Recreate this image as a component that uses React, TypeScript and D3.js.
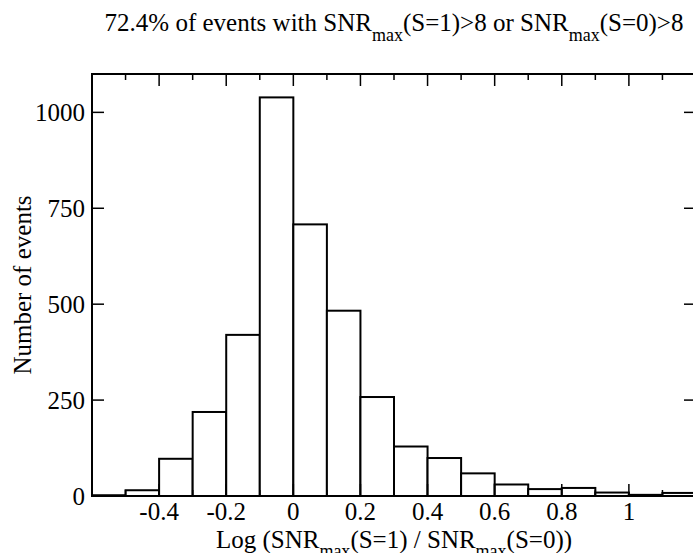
import React from "react";
import * as d3 from "d3";

// histogram of log10(SNRmax(S=1)/SNRmax(S=0)), bin width 0.1
const binStarts = [-0.6, -0.5, -0.4, -0.3, -0.2, -0.1, 0, 0.1, 0.2, 0.3, 0.4, 0.5, 0.6, 0.7, 0.8, 0.9, 1.0, 1.1];
const counts = [2, 15, 97, 219, 420, 1039, 708, 483, 258, 129, 99, 59, 30, 18, 21, 9, 3, 8];
const binWidth = 0.1;

const xMajorTicks = [-0.4, -0.2, 0, 0.2, 0.4, 0.6, 0.8, 1];
const xMinorTicks = [-0.5, -0.3, -0.1, 0.1, 0.3, 0.5, 0.7, 0.9, 1.1];
const yTicks = [0, 250, 500, 750, 1000];

const width = 693;
const height = 553;
const marginLeft = 92;
const marginRight = -3;
const marginTop = 74;
const marginBottom = 57;

const font = "'Liberation Serif', 'Times New Roman', serif";

const App = () => {
  const x = d3
    .scaleLinear()
    .domain([-0.6, 1.2])
    .range([marginLeft, width - marginRight]);

  const y = d3
    .scaleLinear()
    .domain([0, 1100])
    .range([height - marginBottom, marginTop]);

  const left = x.range()[0];
  const right = x.range()[1];
  const top = y.range()[1];
  const bottom = y.range()[0];

  const major = 12;
  const minor = 6;

  return (
    <svg
      width={width}
      height={height}
      style={{ position: "absolute", left: 0, top: 0, background: "#fff" }}
      fontFamily={font}
    >
      {/* bars */}
      <g fill="#fff" stroke="#000" strokeWidth={2}>
        {binStarts.map((b, i) => (
          <rect
            key={i}
            x={x(b)}
            y={y(counts[i])}
            width={x(b + binWidth) - x(b)}
            height={y(0) - y(counts[i])}
          />
        ))}
      </g>

      {/* ticks, all pointing inward */}
      <g stroke="#000" strokeWidth={1.5}>
        {xMajorTicks.map((t) => (
          <g key={"xM" + t}>
            <line x1={x(t)} x2={x(t)} y1={bottom} y2={bottom - major} />
            <line x1={x(t)} x2={x(t)} y1={top} y2={top + major} />
          </g>
        ))}
        {xMinorTicks.map((t) => (
          <g key={"xm" + t}>
            <line x1={x(t)} x2={x(t)} y1={bottom} y2={bottom - minor} />
            <line x1={x(t)} x2={x(t)} y1={top} y2={top + minor} />
          </g>
        ))}
        {yTicks.map((t) => (
          <g key={"y" + t}>
            <line x1={left} x2={left + major} y1={y(t)} y2={y(t)} />
            <line x1={right} x2={right - major} y1={y(t)} y2={y(t)} />
          </g>
        ))}
      </g>

      {/* frame */}
      <rect
        x={left}
        y={top}
        width={right - left}
        height={bottom - top}
        fill="none"
        stroke="#000"
        strokeWidth={2}
      />

      {/* tick labels */}
      <g fontSize={25} fill="#000">
        {xMajorTicks.map((t) => (
          <text key={"xl" + t} x={x(t)} y={bottom + 24} textAnchor="middle">
            {String(t)}
          </text>
        ))}
        {yTicks.map((t) => (
          <text key={"yl" + t} x={left - 7} y={y(t) + 8.5} textAnchor="end">
            {t}
          </text>
        ))}
      </g>

      {/* title */}
      <text x={(left + right) / 2} y={31} textAnchor="middle" fontSize={25}>
        <tspan>72.4% of events with SNR</tspan>
        <tspan fontSize={18} dy={10}>max</tspan>
        <tspan dy={-10}>(S=1)&gt;8 or SNR</tspan>
        <tspan fontSize={18} dy={10}>max</tspan>
        <tspan dy={-10}>(S=0)&gt;8</tspan>
      </text>

      {/* x axis label */}
      <text x={(left + right) / 2} y={548} textAnchor="middle" fontSize={25}>
        <tspan>Log (SNR</tspan>
        <tspan fontSize={18} dy={9}>max</tspan>
        <tspan dy={-9}>(S=1) / SNR</tspan>
        <tspan fontSize={18} dy={9}>max</tspan>
        <tspan dy={-9}>(S=0))</tspan>
      </text>

      {/* y axis label */}
      <text
        transform={`translate(31, ${(top + bottom) / 2}) rotate(-90)`}
        textAnchor="middle"
        fontSize={25}
      >
        Number of events
      </text>
    </svg>
  );
};

export default App;
